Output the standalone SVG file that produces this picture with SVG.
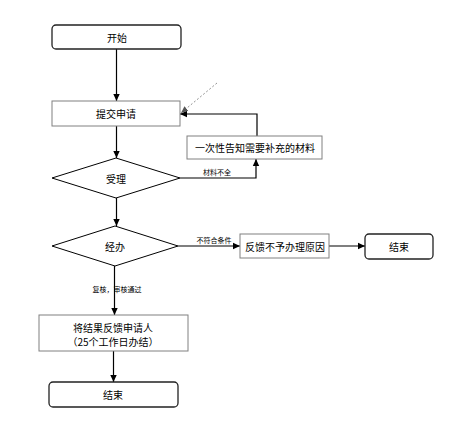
<svg xmlns="http://www.w3.org/2000/svg" width="473" height="436" viewBox="0 0 473 436">
<defs>
<marker id="ah" markerWidth="8" markerHeight="8" refX="7" refY="4" orient="auto" markerUnits="userSpaceOnUse">
<path d="M0,0.8 L7,4 L0,7.2 Z" fill="#000"/>
</marker>
<marker id="ahg" markerWidth="8" markerHeight="8" refX="7" refY="4" orient="auto" markerUnits="userSpaceOnUse">
<path d="M0,1 L7,4 L0,7 Z" fill="#555"/>
</marker>
</defs>
<style>
text{font-family:"Noto Sans CJK SC","Liberation Sans",sans-serif;fill:#000;text-anchor:middle;dominant-baseline:central}
.t{font-size:10px}
.s{font-size:7px}
.term{fill:#fff;stroke:#222;stroke-width:1.3}
.box{fill:#fff;stroke:#808080;stroke-width:1}
.dia{fill:#fff;stroke:#000;stroke-width:1}
.c{fill:none;stroke:#000;stroke-width:1.2}
</style>
<rect width="473" height="436" fill="#fff"/>
<g id="connectors">
<line class="c" x1="116.5" y1="49" x2="116.5" y2="101" marker-end="url(#ah)"/>
<line class="c" x1="116.5" y1="126" x2="116.5" y2="158" marker-end="url(#ah)"/>
<line class="c" x1="116.5" y1="198" x2="116.5" y2="226" marker-end="url(#ah)"/>
<polyline class="c" points="180,178 256,178 256,159" marker-end="url(#ah)"/>
<polyline class="c" points="257,136 257,114 180,114" marker-end="url(#ah)"/>
<line x1="217" y1="83" x2="181" y2="113" stroke="#777" stroke-width="0.8" stroke-dasharray="2,2" marker-end="url(#ahg)"/>
<line class="c" x1="178" y1="246" x2="240" y2="246" marker-end="url(#ah)"/>
<line class="c" x1="329" y1="246" x2="365" y2="246" marker-end="url(#ah)"/>
<line class="c" x1="114.5" y1="266" x2="114.5" y2="315" marker-end="url(#ah)"/>
<line class="c" x1="113.5" y1="351" x2="113.5" y2="382" marker-end="url(#ah)"/>
<text class="s" x="217" y="172">材料不全</text>
<text class="s" x="214" y="240">不符合条件</text>
<text class="s" x="117" y="289">复核，审核通过</text>
</g>
<g id="start">
<rect class="term" x="52" y="25" width="129" height="24" rx="4"/>
<text class="t" x="117" y="37">开始</text>
</g>
<g id="submit">
<rect class="box" x="52" y="101" width="128" height="25"/>
<text class="t" x="116" y="113.5">提交申请</text>
</g>
<g id="notify">
<rect class="box" x="187" y="136" width="135" height="23"/>
<text class="t" x="255" y="147.5">一次性告知需要补充的材料</text>
</g>
<g id="accept">
<polygon class="dia" points="52,178 116,158 180,178 116,198"/>
<text class="t" x="116" y="178">受理</text>
</g>
<g id="handle">
<polygon class="dia" points="52,246 115,226 178,246 115,266"/>
<text class="t" x="115" y="246">经办</text>
</g>
<g id="reject">
<rect class="box" x="240" y="234" width="89" height="24"/>
<text class="t" x="285" y="246">反馈不予办理原因</text>
</g>
<g id="end-right">
<rect class="term" x="365" y="234" width="68" height="25" rx="4"/>
<text class="t" x="399" y="246.5">结束</text>
</g>
<g id="result">
<rect class="box" x="39" y="315" width="149" height="36"/>
<text class="t" x="113" y="327">将结果反馈申请人</text>
<text class="t" x="113" y="341">（25个工作日办结）</text>
</g>
<g id="end-bottom">
<rect class="term" x="49" y="382" width="129" height="25" rx="4"/>
<text class="t" x="113" y="394.5">结束</text>
</g>
</svg>
